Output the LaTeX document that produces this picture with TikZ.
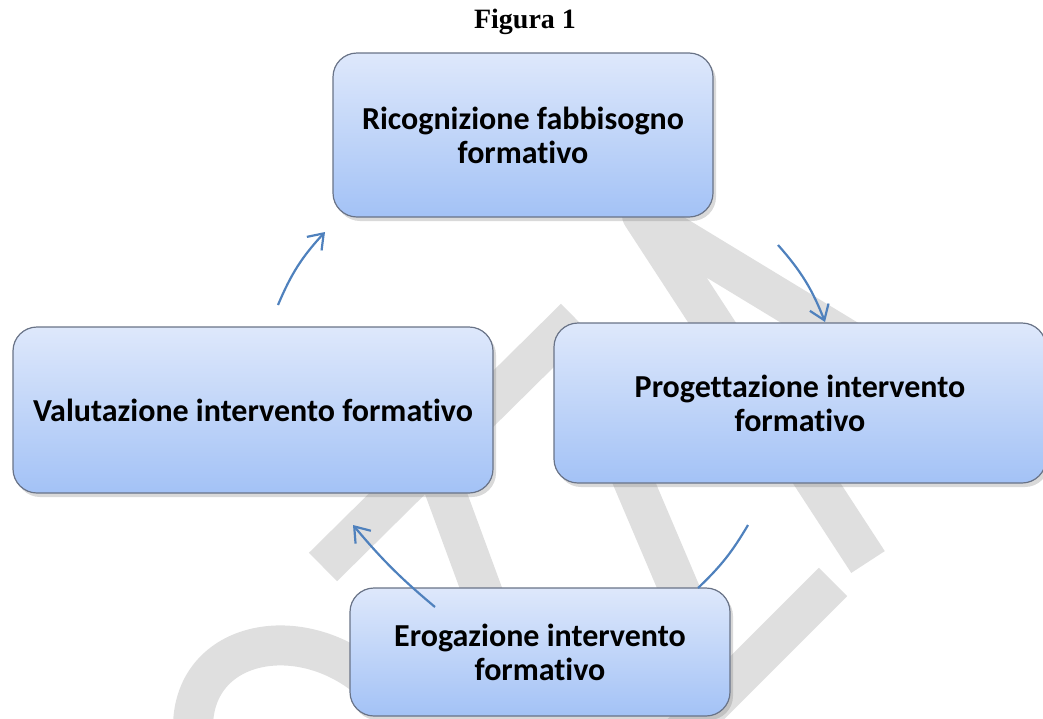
\documentclass[tikz,border=0pt]{standalone}
\usepackage{fontspec}
\setmainfont{Liberation Serif}
\newfontfamily\carlito[Ligatures=NoCommon]{Carlito}
\usetikzlibrary{arrows.meta,shadows}
\definecolor{boxtop}{RGB}{222,232,251}
\definecolor{boxbot}{RGB}{163,194,246}
\definecolor{boxline}{RGB}{105,115,135}
\definecolor{arrblue}{RGB}{79,129,189}
\definecolor{wgray}{RGB}{223,223,223}

\begin{document}
\begin{tikzpicture}[x=0.5pt, y=-0.5pt,
    phase/.style = {draw=boxline, line width=0.6pt, rounded corners=12pt,
      top color=boxtop, bottom color=boxbot, align=center,
      font=\carlito\bfseries\fontsize{16}{17}\selectfont,
      drop shadow={opacity=0.3, shadow xshift=1.5pt, shadow yshift=-2pt}},
    cyc/.style = {arrblue, line width=1.1pt, -{Straight Barb[length=7pt, width=10pt]}},
    wmark/.style = {wgray, line width=20pt}]
    \useasboundingbox (0,0) rectangle (1043,718);
    \clip (0,0) rectangle (1043,718);
    \draw [wmark, line join=round] (950,402) -- (642,215) -- (868,562);
    \draw [wmark] (620,450) -- (705,650);
    \draw [wmark] (575,318) -- (323,567);
    \draw [wmark] (430,450) -- (500,640);
    \draw [wmark] (833,582) -- (680,735);
    \draw [wmark] (193,725) .. controls (195,640) and (300,620) .. (370,680);
    \node (title) at (525,22) {\fontsize{14}{16}\selectfont\bfseries Figura 1};
    \node [phase, minimum width=190pt, minimum height=82pt] (ricog) at (523,135) {Ricognizione fabbisogno\\formativo};
    \node [phase, minimum width=246pt, minimum height=80pt] (prog) at (800,403) {Progettazione intervento\\formativo};
    \node [phase, minimum width=240pt, minimum height=83pt] (valut) at (253,410) {Valutazione intervento formativo};
    \node [phase, minimum width=190pt, minimum height=64pt] (erog) at (540,652) {Erogazione intervento\\formativo};
    \coordinate (a1s) at (778,245);
    \coordinate (a1e) at (825,322);
    \coordinate (a2s) at (748,525);
    \coordinate (a2e) at (698,588);
    \coordinate (a3s) at (435,607);
    \coordinate (a3e) at (353,525);
    \coordinate (a4s) at (278,305);
    \coordinate (a4e) at (325,232);
    \draw [cyc] (a1s) to [bend left=10] (a1e);
    \draw [cyc, -] (a2s) to [bend left=8] (a2e);
    \draw [cyc] (a3s) to [bend left=5] (a3e);
    \draw [cyc] (a4s) to [bend left=10] (a4e);
\end{tikzpicture}
\end{document}
